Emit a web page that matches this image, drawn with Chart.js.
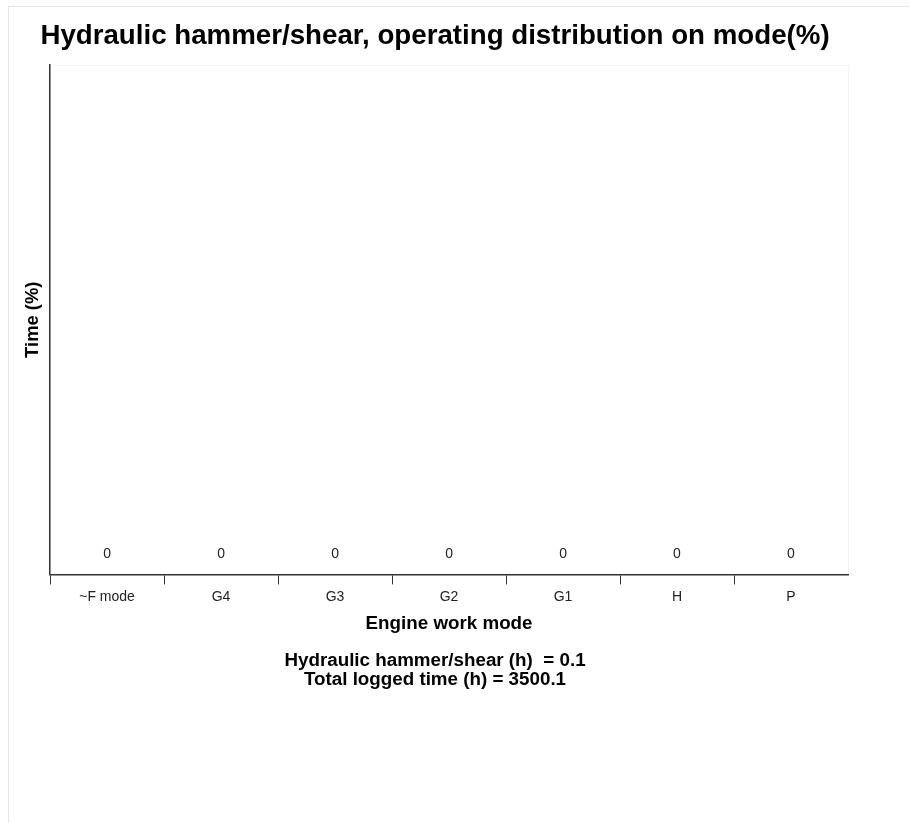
<!DOCTYPE html>
<html>
<head>
<meta charset="utf-8">
<script src="https://cdn.jsdelivr.net/npm/chart.js@4.4.1/dist/chart.umd.min.js"></script>
<style>
    body { margin: 0; background: #fff; }
    #frame { position: absolute; left: 8px; top: 6px; width: 910px; height: 830px;
             border-left: 1px solid #e4e4e4; border-top: 1px solid #e4e4e4; }
    #wrap { position: absolute; left: 0; top: 0; width: 910px; height: 823px; }
</style>
</head>
<body>
<div id="frame"></div>
<div id="wrap"><canvas id="modeChart"></canvas></div>
<script>
/* Hydraulic hammer/shear : operating distribution on mode */
const modes = ["~F mode", "G4", "G3", "G2", "G1", "H", "P"];
const timePercent = [0, 0, 0, 0, 0, 0, 0];
const hammerHours = 0.1;
const totalHours = 3500.1;

/* value labels above each bar, placed with the y scale */
const valueLabels = {
    id: "valueLabels",
    afterDatasetsDraw: function (chart) {
        const ctx = chart.ctx;
        const meta = chart.getDatasetMeta(0);
        const yScale = chart.scales.y;
        ctx.save();
        ctx.font = "14px Arial";
        ctx.fillStyle = "#222";
        ctx.textAlign = "center";
        ctx.textBaseline = "middle";
        meta.data.forEach(function (bar, i) {
            const v = timePercent[i];
            ctx.fillText(String(v), bar.x, yScale.getPixelForValue(v) - 20);
        });
        ctx.restore();
    }
};

/* faint outline of the plot area */
const plotFrame = {
    id: "plotFrame",
    beforeDraw: function (chart) {
        const a = chart.chartArea;
        const ctx = chart.ctx;
        ctx.save();
        ctx.strokeStyle = "#f3f3f3";
        ctx.lineWidth = 1;
        ctx.strokeRect(a.left + 0.5, a.top + 0.5, a.right - a.left, a.bottom - a.top);
        ctx.restore();
    }
};

new Chart(document.getElementById("modeChart").getContext("2d"), {
    type: "bar",
    data: {
        labels: modes,
        datasets: [{
            data: timePercent,
            backgroundColor: "#4e79a7"
        }]
    },
    options: {
        responsive: true,
        maintainAspectRatio: false,
        animation: false,
        layout: {
            padding: { left: 22, right: 62, top: 0, bottom: 133 }
        },
        plugins: {
            legend: { display: false },
            tooltip: { enabled: false },
            title: {
                display: true,
                text: "Hydraulic hammer/shear, operating distribution on mode(%)",
                color: "#000",
                font: { family: "Arial", size: 27.7, weight: "bold" },
                padding: { top: 19.4, bottom: 12.4 }
            },
            subtitle: {
                display: true,
                position: "bottom",
                text: ["Hydraulic hammer/shear (h)  = " + hammerHours,
                       "Total logged time (h) = " + totalHours],
                color: "#000",
                font: { family: "Arial", size: 18.8, weight: "bold", lineHeight: 1.03 },
                padding: { top: 16, bottom: 0 }
            }
        },
        scales: {
            x: {
                grid: {
                    display: true,
                    drawOnChartArea: false,
                    drawTicks: true,
                    tickLength: 10,
                    tickColor: function (c) { return c.type === "tick" ? "#333" : "rgba(0,0,0,0)"; },
                    offset: true
                },
                border: { display: true, color: "#333", width: 1.5 },
                ticks: {
                    color: "#222",
                    font: { family: "Arial", size: 14 },
                    maxRotation: 0,
                    padding: 4.6
                },
                title: {
                    display: true,
                    text: "Engine work mode",
                    color: "#000",
                    font: { family: "Arial", size: 18.8, weight: "bold" },
                    padding: { top: 2.3, bottom: 0 }
                }
            },
            y: {
                min: 0,
                max: 100,
                grid: { display: false },
                border: { display: true, color: "#333", width: 1.5 },
                ticks: { display: false },
                title: {
                    display: true,
                    text: "Time (%)",
                    color: "#000",
                    font: { family: "Arial", size: 18.4, weight: "bold" },
                    padding: { top: 0, bottom: -2 }
                }
            }
        }
    },
    plugins: [plotFrame, valueLabels]
});
</script>
</body>
</html>
